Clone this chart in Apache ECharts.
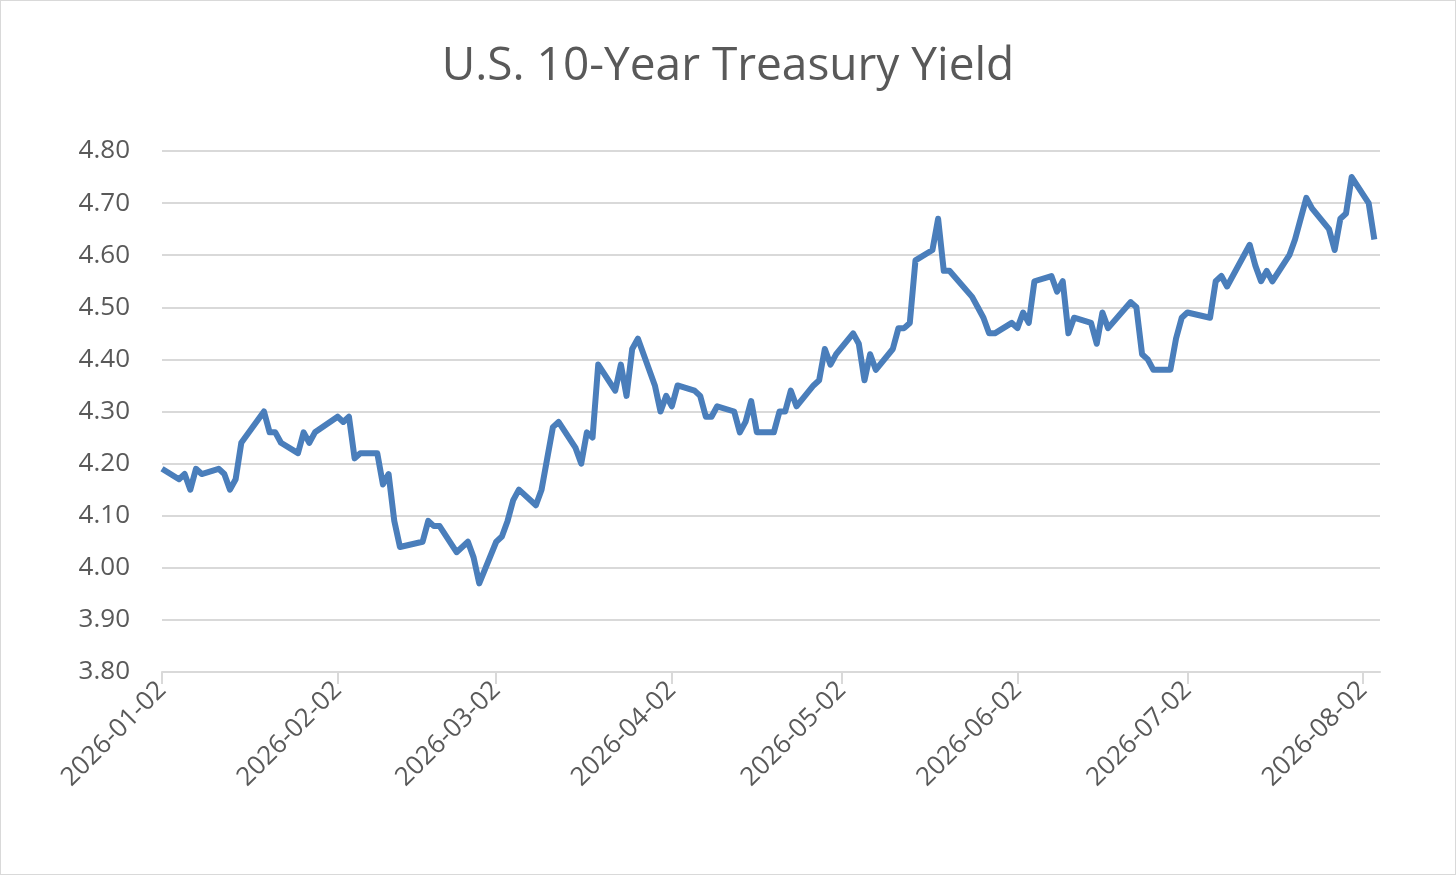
<!DOCTYPE html>
<html>
<head>
<meta charset="utf-8">
<script src="https://cdn.jsdelivr.net/npm/echarts@6/dist/echarts.min.js"></script>
<style>
html,body{margin:0;padding:0;background:#fff;}
#chart{width:1454px;height:873px;border:1px solid #d9d9d9;}
</style>
</head>
<body>
<div id="chart"></div>
<script>
// daily yield readings
var dates = ['2026-01-02','2026-01-05','2026-01-06','2026-01-07','2026-01-08','2026-01-09','2026-01-12','2026-01-13','2026-01-14','2026-01-15','2026-01-16',
	'2026-01-20','2026-01-21','2026-01-22','2026-01-23','2026-01-26','2026-01-27','2026-01-28','2026-01-29','2026-02-02','2026-02-03','2026-02-04','2026-02-05','2026-02-06',
	'2026-02-09','2026-02-10','2026-02-11','2026-02-12','2026-02-13','2026-02-17','2026-02-18','2026-02-19','2026-02-20','2026-02-23','2026-02-25','2026-02-26','2026-02-27',
	'2026-03-02','2026-03-03','2026-03-04','2026-03-05','2026-03-06','2026-03-09','2026-03-10','2026-03-11','2026-03-12','2026-03-13','2026-03-16','2026-03-17','2026-03-18','2026-03-19','2026-03-20',
	'2026-03-23','2026-03-24','2026-03-25','2026-03-26','2026-03-27','2026-03-30','2026-03-31','2026-04-01','2026-04-02','2026-04-03','2026-04-06','2026-04-07','2026-04-08','2026-04-09','2026-04-10',
	'2026-04-13','2026-04-14','2026-04-15','2026-04-16','2026-04-17','2026-04-20','2026-04-21','2026-04-22','2026-04-23','2026-04-24','2026-04-27','2026-04-28','2026-04-29','2026-04-30','2026-05-01',
	'2026-05-04','2026-05-05','2026-05-06','2026-05-07','2026-05-08','2026-05-11','2026-05-12','2026-05-13','2026-05-14','2026-05-15','2026-05-18','2026-05-19','2026-05-20','2026-05-21',
	'2026-05-25','2026-05-26','2026-05-27','2026-05-28','2026-05-29','2026-06-01','2026-06-02','2026-06-03','2026-06-04','2026-06-05','2026-06-08','2026-06-09','2026-06-10','2026-06-11','2026-06-12',
	'2026-06-15','2026-06-16','2026-06-17','2026-06-18','2026-06-22','2026-06-23','2026-06-24','2026-06-25','2026-06-26','2026-06-29','2026-06-30','2026-07-01','2026-07-02',
	'2026-07-06','2026-07-07','2026-07-08','2026-07-09','2026-07-13','2026-07-14','2026-07-15','2026-07-16','2026-07-17','2026-07-20','2026-07-21','2026-07-23','2026-07-24',
	'2026-07-27','2026-07-28','2026-07-29','2026-07-30','2026-07-31','2026-08-03','2026-08-04'];
var yields = [4.19,4.17,4.18,4.15,4.19,4.18,4.19,4.18,4.15,4.17,4.24,
	4.30,4.26,4.26,4.24,4.22,4.26,4.24,4.26,4.29,4.28,4.29,4.21,4.22,
	4.22,4.16,4.18,4.09,4.04,4.05,4.09,4.08,4.08,4.03,4.05,4.02,3.97,
	4.05,4.06,4.09,4.13,4.15,4.12,4.15,4.21,4.27,4.28,4.23,4.20,4.26,4.25,4.39,
	4.34,4.39,4.33,4.42,4.44,4.35,4.30,4.33,4.31,4.35,4.34,4.33,4.29,4.29,4.31,
	4.30,4.26,4.28,4.32,4.26,4.26,4.30,4.30,4.34,4.31,4.35,4.36,4.42,4.39,4.41,
	4.45,4.43,4.36,4.41,4.38,4.42,4.46,4.46,4.47,4.59,4.61,4.67,4.57,4.57,
	4.52,4.50,4.48,4.45,4.45,4.47,4.46,4.49,4.47,4.55,4.56,4.53,4.55,4.45,4.48,
	4.47,4.43,4.49,4.46,4.51,4.50,4.41,4.40,4.38,4.38,4.44,4.48,4.49,
	4.48,4.55,4.56,4.54,4.62,4.58,4.55,4.57,4.55,4.60,4.63,4.71,4.69,
	4.65,4.61,4.67,4.68,4.75,4.70,4.63];
var tickDates = ['2026-01-02','2026-02-02','2026-03-02','2026-04-02','2026-05-02','2026-06-02','2026-07-02','2026-08-02'];

function ts(s){ return +new Date(s + 'T00:00:00'); }
function pad(n){ return n < 10 ? '0' + n : '' + n; }
function fmtDate(v){
	var d = new Date(v);
	return d.getFullYear() + '-' + pad(d.getMonth() + 1) + '-' + pad(d.getDate());
}
var seriesData = [];
for(var i = 0; i < dates.length; i++){
	seriesData.push([ts(dates[i]), yields[i]]);
}
var tickValues = tickDates.map(ts);

var myChart = echarts.init(document.getElementById('chart'));
var textColor = '#595959';
var option = {
	animation: false,
	title: {
		text: 'U.S. 10-Year Treasury Yield',
		left: 'center',
		top: 38,
		textStyle: {color: textColor, fontSize: 46, fontWeight: 'normal', fontFamily: 'Open Sans'}
	},
	grid: {left: 161, right: 75, top: 150, bottom: 202},
	xAxis: {
		type: 'value',
		min: ts('2026-01-02'),
		max: ts('2026-08-05'),
		axisLine: {lineStyle: {color: '#d9d9d9', width: 2}},
		axisTick: {show: true, customValues: tickValues, length: 12, lineStyle: {color: '#d9d9d9', width: 2}},
		axisLabel: {
			customValues: tickValues,
			rotate: 45,
			color: textColor,
			fontSize: 26,
			fontFamily: 'Open Sans',
			margin: 14,
			formatter: fmtDate
		},
		splitLine: {show: false}
	},
	yAxis: {
		type: 'value',
		min: 3.8,
		max: 4.8,
		interval: 0.1,
		axisLine: {show: false},
		axisTick: {show: false},
		axisLabel: {color: textColor, fontSize: 26, fontFamily: 'Open Sans', margin: 32,
			formatter: function(v){ return v.toFixed(2); }},
		splitLine: {lineStyle: {color: '#d9d9d9', width: 2}}
	},
	series: [{
		type: 'line',
		data: seriesData,
		showSymbol: false,
		lineStyle: {color: '#4a7ebb', width: 6, join: 'round'},
		itemStyle: {color: '#4a7ebb'}
	}]
};
myChart.setOption(option);
</script>
</body>
</html>
